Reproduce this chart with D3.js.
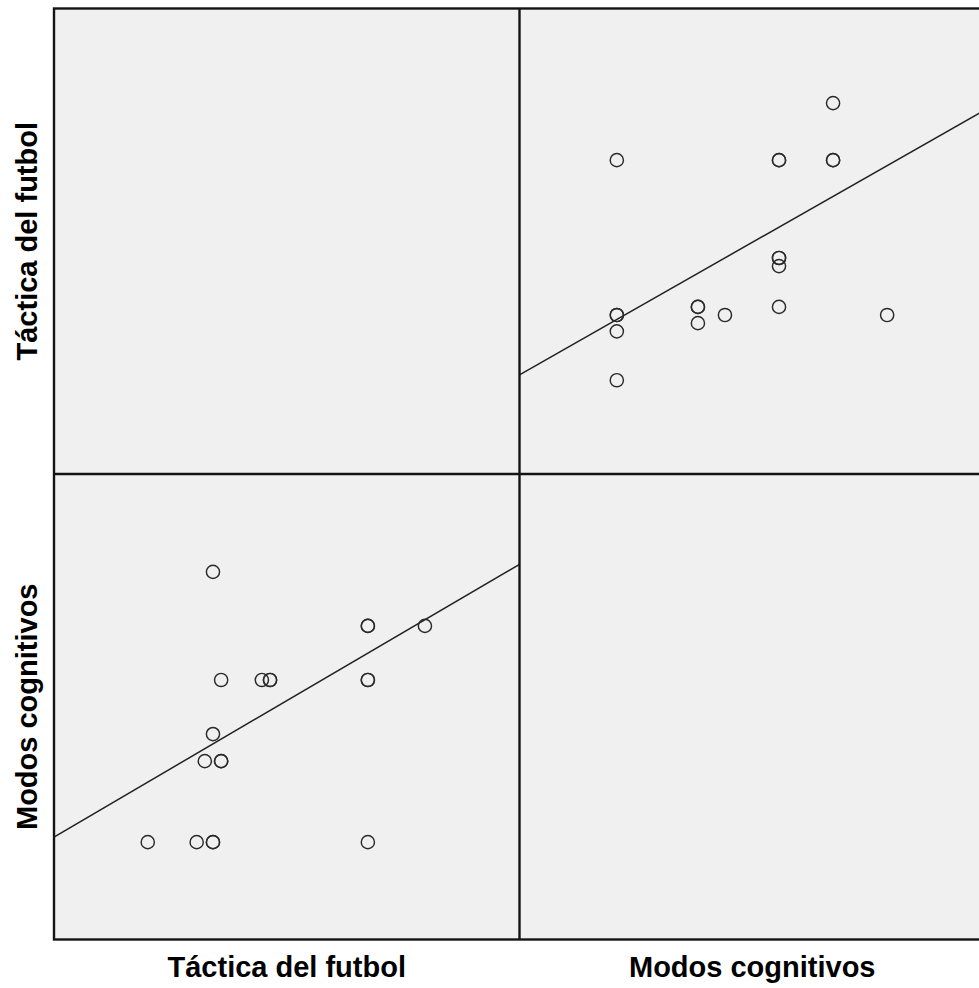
<!DOCTYPE html>
<html>
<head>
<meta charset="utf-8">
<script src="https://cdn.jsdelivr.net/npm/d3@7"></script>
<style>
  html, body { margin: 0; padding: 0; background: #ffffff; }
  svg { display: block; }
  text { font-family: "Liberation Sans", Arial, sans-serif; font-weight: bold; fill: #000; }
</style>
</head>
<body>
<svg id="chart" width="979" height="988"></svg>
<script>
// ---- Data ----
const variables = ["Táctica del futbol", "Modos cognitivos"];
// one entry per respondent (duplicates overlap in the picture)
const tactica = [28, 47, 47, 54, 29, 34, 35, 35, 47, 47, 28, 27, 29, 29, 20, 26, 28, 28, 47];
const modos   = [30, 28, 28, 28, 26, 26, 26, 26, 26, 26, 24, 23, 23, 23, 20, 20, 20, 20, 20];
// axis domains of each variable
const tacticaDomain = [8.5, 65.6];
const modosDomain = [16.4, 33.62];
// fit lines (intercept, slope) as drawn in the picture
const fitModosOnTactica = [18.69, 0.1766];   // Modos = a + b * Táctica
const fitTacticaOnModos = [-10.28, 1.887];   // Táctica = a + b * Modos

// ---- Layout ----
const svg = d3.select("#chart");
const leftX = 54, topY = 8.5, P = 465.5;
const x0 = leftX, x1 = leftX + P, x2 = leftX + 2 * P;
const y0 = topY, y1 = topY + P, y2 = topY + 2 * P;

const data = tactica.map((t, i) => ({ t, m: modos[i] }));

// scales per panel
const xT = d3.scaleLinear().domain(tacticaDomain).range([x0, x1]);      // lower-left x
const yM = d3.scaleLinear().domain(modosDomain).range([y2, y1]);        // lower-left y
const xM = d3.scaleLinear().domain(modosDomain).range([x1, x2]);        // upper-right x
const yT = d3.scaleLinear().domain(tacticaDomain).range([y1, y0]);      // upper-right y

// panel backgrounds
const panels = [
  { x: x0, y: y0 }, { x: x1, y: y0 }, { x: x0, y: y1 }, { x: x1, y: y1 }
];
svg.append("g").selectAll("rect").data(panels).join("rect")
  .attr("x", d => d.x).attr("y", d => d.y)
  .attr("width", P).attr("height", P)
  .attr("fill", "#f0f0f0");

const defs = svg.append("defs");
defs.append("clipPath").attr("id", "clipUR").append("rect")
  .attr("x", x1).attr("y", y0).attr("width", P).attr("height", P);
defs.append("clipPath").attr("id", "clipLL").append("rect")
  .attr("x", x0).attr("y", y1).attr("width", P).attr("height", P);

const circleStyle = sel => sel
  .attr("r", 6.6)
  .attr("fill", "none").attr("stroke", "#2a2a2a").attr("stroke-width", 1.45);

// upper-right: x = Modos, y = Táctica
const ur = svg.append("g").attr("clip-path", "url(#clipUR)");
ur.append("line")
  .attr("x1", xM(modosDomain[0]))
  .attr("y1", yT(fitTacticaOnModos[0] + fitTacticaOnModos[1] * modosDomain[0]))
  .attr("x2", xM(modosDomain[1]))
  .attr("y2", yT(fitTacticaOnModos[0] + fitTacticaOnModos[1] * modosDomain[1]))
  .attr("stroke", "#222").attr("stroke-width", 1.5);
ur.selectAll("circle").data(data).join("circle")
  .attr("cx", d => xM(d.m)).attr("cy", d => yT(d.t)).call(circleStyle);

// lower-left: x = Táctica, y = Modos
const ll = svg.append("g").attr("clip-path", "url(#clipLL)");
ll.append("line")
  .attr("x1", xT(tacticaDomain[0]))
  .attr("y1", yM(fitModosOnTactica[0] + fitModosOnTactica[1] * tacticaDomain[0]))
  .attr("x2", xT(tacticaDomain[1]))
  .attr("y2", yM(fitModosOnTactica[0] + fitModosOnTactica[1] * tacticaDomain[1]))
  .attr("stroke", "#222").attr("stroke-width", 1.5);
ll.selectAll("circle").data(data).join("circle")
  .attr("cx", d => xT(d.t)).attr("cy", d => yM(d.m)).call(circleStyle);

// frame and dividers
const frame = svg.append("g").attr("stroke", "#141414").attr("stroke-width", 2.4).attr("fill", "none");
frame.append("rect").attr("x", x0).attr("y", y0).attr("width", 2 * P).attr("height", 2 * P);
frame.append("line").attr("x1", x1).attr("x2", x1).attr("y1", y0).attr("y2", y2);
frame.append("line").attr("x1", x0).attr("x2", x2).attr("y1", y1).attr("y2", y1);

// labels
svg.selectAll("text.xlab").data(variables).join("text")
  .attr("class", "xlab")
  .attr("x", (d, i) => x0 + P * i + P / 2)
  .attr("y", 977)
  .attr("text-anchor", "middle")
  .attr("font-size", 29)
  .text(d => d);

svg.selectAll("text.ylab").data(variables).join("text")
  .attr("class", "ylab")
  .attr("transform", (d, i) => `translate(37,${y0 + P * i + P / 2}) rotate(-90)`)
  .attr("text-anchor", "middle")
  .attr("font-size", 29)
  .text(d => d);
</script>
</body>
</html>
